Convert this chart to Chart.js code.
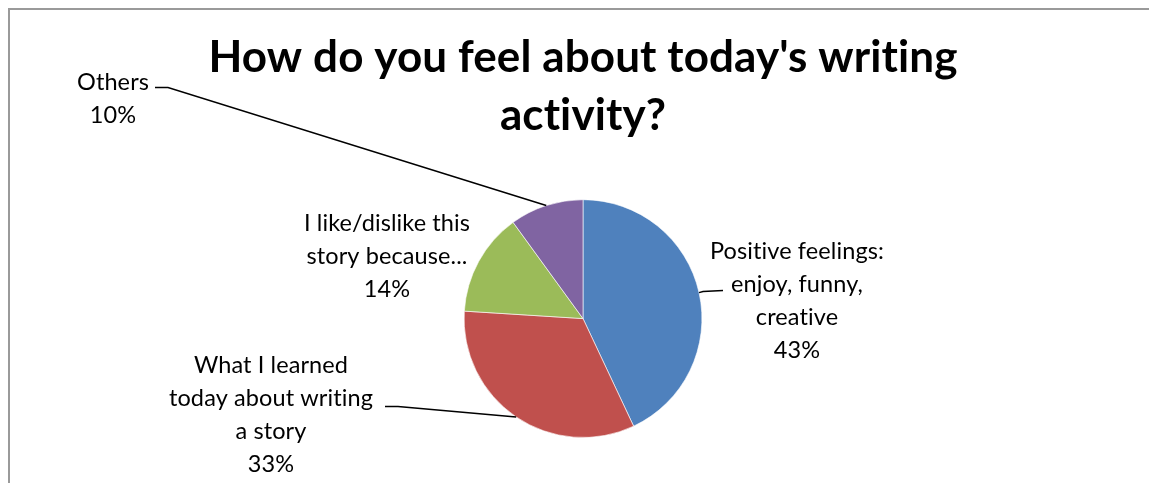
<!DOCTYPE html>
<html>
<head>
<meta charset="utf-8">
<script src="https://cdn.jsdelivr.net/npm/chart.js@4.4.0/dist/chart.umd.min.js"></script>
<style>
  html, body { margin: 0; padding: 0; background: #fff; }
  #wrap { position: relative; width: 1149px; height: 483px; overflow: hidden; }
  #frame {
    position: absolute; left: 8px; top: 8px; width: 1200px; height: 600px;
    border-left: 2px solid #9a9a9a; border-top: 2px solid #9a9a9a;
    box-sizing: border-box;
  }
  #c { position: absolute; left: 0; top: 0; }
</style>
</head>
<body>
<div id="wrap">
  <div id="frame"></div>
  <canvas id="c" width="1149" height="483"></canvas>
</div>
<script>
// ── Data ─────────────────────────────────────────────────────────
const categories = [
  ["Positive feelings:", "enjoy, funny,", "creative"],
  ["What I learned", "today about writing", "a story"],
  ["I like/dislike this", "story because..."],
  ["Others"],
];
const percentValues = [43, 33, 14, 10];
const sliceColors   = ["#4F81BD", "#C0504D", "#9BBB59", "#8064A2"];
const titleLines    = ["How do you feel about today's writing", "activity?"];

// ── Label placement (offset from pie centre) + leader elbows ─────
const LABEL_FONT = "23.5px Lato, 'Open Sans', sans-serif";
const LABEL_LINE = 33;
const labelStyle = [
  { dx: 214, dy: -18, leader: [[-94, -9], [-74, -10]] },
  { dx: -312, dy: 96, leader: [[127, -8], [114, -8]] },
  { dx: -196, dy: -62, leader: null },
  { dx: -470, dy: -220, leader: [[55, -11], [42, -11]] },
];

// a tiny letter spacing keeps Lato from joining "ti" into a ligature
const noLigatures = {
  id: "noLigatures",
  beforeDraw(chart) { chart.ctx.letterSpacing = "0.1px"; },
};

const pieLabels = {
  id: "pieLabels",
  afterDatasetsDraw(chart) {
    const ctx  = chart.ctx;
    const meta = chart.getDatasetMeta(0);
    ctx.save();
    ctx.font = LABEL_FONT;
    ctx.letterSpacing = "0.1px";
    ctx.fillStyle = "#000";
    ctx.strokeStyle = "#000";
    ctx.lineWidth = 1.5;
    ctx.textAlign = "center";
    ctx.textBaseline = "middle";
    meta.data.forEach((arc, i) => {
      const p   = arc.getProps(["x", "y", "startAngle", "endAngle", "outerRadius"], true);
      const mid = (p.startAngle + p.endAngle) / 2;
      const ex  = p.x + Math.cos(mid) * p.outerRadius;
      const ey  = p.y + Math.sin(mid) * p.outerRadius;
      const st  = labelStyle[i];
      const lx  = p.x + st.dx, ly = p.y + st.dy;

      const lines = categories[i].concat([percentValues[i] + "%"]);
      const top = ly - (lines.length - 1) * LABEL_LINE / 2;
      lines.forEach((t, k) => ctx.fillText(t, lx, top + k * LABEL_LINE));

      if (st.leader) {
        ctx.beginPath();
        ctx.moveTo(ex, ey);
        st.leader.forEach(([ox, oy]) => ctx.lineTo(lx + ox, ly + oy));
        ctx.stroke();
      }
    });
    ctx.restore();
  },
};

new Chart(document.getElementById("c"), {
  type: "pie",
  data: {
    labels: categories.map(l => l.join(" ")),
    datasets: [{
      data: percentValues,
      backgroundColor: sliceColors,
      borderColor: "rgba(255,255,255,0.6)",
      borderWidth: 1,
      hoverOffset: 0,
    }],
  },
  options: {
    responsive: false,
    animation: false,
    layout: { padding: { top: 20, left: 17, right: 0, bottom: 45 } },
    plugins: {
      legend: { display: false },
      tooltip: { enabled: false },
      title: {
        display: true,
        text: titleLines,
        color: "#000",
        font: { family: "Lato, 'Open Sans', sans-serif", size: 44, weight: "bold", lineHeight: 1.32 },
        padding: { top: 9, bottom: 54 },
      },
    },
  },
  plugins: [noLigatures, pieLabels],
});
</script>
</body>
</html>
